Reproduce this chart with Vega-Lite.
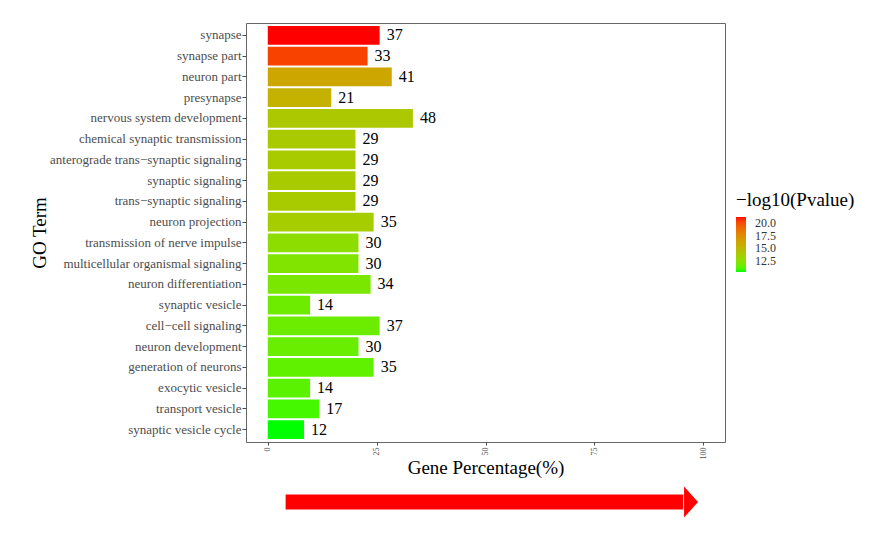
{
  "$schema": "https://vega.github.io/schema/vega-lite/v6.json",
  "background": "white",
  "padding": {"left": 30, "top": 22, "right": 5, "bottom": 5},
  "config": {"font": "Liberation Serif", "view": {"stroke": "#666666", "strokeWidth": 1}},
  "spacing": 4,
  "vconcat": [
    {
      "width": 479,
      "height": 419,
      "data": {"values": [
        {"term": "synapse", "pct": 25.69, "count": 37, "logp": 21.18},
        {"term": "synapse part", "pct": 22.92, "count": 33, "logp": 20.31},
        {"term": "neuron part", "pct": 28.47, "count": 41, "logp": 16.08},
        {"term": "presynapse", "pct": 14.58, "count": 21, "logp": 15.43},
        {"term": "nervous system development", "pct": 33.33, "count": 48, "logp": 14.02},
        {"term": "chemical synaptic transmission", "pct": 20.14, "count": 29, "logp": 13.91},
        {"term": "anterograde trans−synaptic signaling", "pct": 20.14, "count": 29, "logp": 13.8},
        {"term": "synaptic signaling", "pct": 20.14, "count": 29, "logp": 13.8},
        {"term": "trans−synaptic signaling", "pct": 20.14, "count": 29, "logp": 13.8},
        {"term": "neuron projection", "pct": 24.31, "count": 35, "logp": 13.7},
        {"term": "transmission of nerve impulse", "pct": 20.83, "count": 30, "logp": 12.6},
        {"term": "multicellular organismal signaling", "pct": 20.83, "count": 30, "logp": 12.17},
        {"term": "neuron differentiation", "pct": 23.61, "count": 34, "logp": 11.96},
        {"term": "synaptic vesicle", "pct": 9.72, "count": 14, "logp": 11.63},
        {"term": "cell−cell signaling", "pct": 25.69, "count": 37, "logp": 11.58},
        {"term": "neuron development", "pct": 20.83, "count": 30, "logp": 11.52},
        {"term": "generation of neurons", "pct": 24.31, "count": 35, "logp": 11.3},
        {"term": "exocytic vesicle", "pct": 9.72, "count": 14, "logp": 11.2},
        {"term": "transport vesicle", "pct": 11.81, "count": 17, "logp": 10.82},
        {"term": "synaptic vesicle cycle", "pct": 8.33, "count": 12, "logp": 10.33}
      ]},
      "encoding": {
        "y": {
          "field": "term", "type": "nominal", "sort": null,
          "scale": {"paddingInner": 0.1, "paddingOuter": 0.15},
          "axis": {
            "title": "GO Term", "titleFont": "Liberation Serif", "titleFontSize": 19, "titleFontWeight": "normal", "titleColor": "black",
            "titlePadding": 0, "labelFont": "Liberation Serif", "labelFontSize": 13, "labelColor": "#4d4d4d", "tickColor": "#4d4d4d",
            "tickSize": 4, "labelPadding": 1, "domain": false, "grid": false, "labelLimit": 400
          }
        },
        "x": {
          "field": "pct", "type": "quantitative",
          "scale": {"domain": [-5, 105], "nice": false, "zero": false},
          "axis": {
            "title": "Gene Percentage(%)", "titleFont": "Liberation Serif", "titleFontSize": 19, "titleFontWeight": "normal", "titleColor": "black",
            "titlePadding": -1, "values": [0, 25, 50, 75, 100], "labelAngle": -90, "labelFont": "Liberation Serif", "labelFontSize": 8,
            "labelColor": "#4d4d4d", "tickColor": "#4d4d4d", "tickSize": 3, "labelPadding": 2,
            "domain": false, "grid": false
          }
        }
      },
      "layer": [
        {
          "mark": {"type": "bar"},
          "encoding": {
            "color": {
              "field": "logp", "type": "quantitative",
              "scale": {"range": ["#00ff00", "#ff0000"], "interpolate": "lab", "nice": false, "zero": false},
              "legend": {
                "orient": "none", "legendX": 490, "legendY": 168,
                "title": "−log10(Pvalue)", "titleFont": "Liberation Serif", "titleFontSize": 19, "titleFontWeight": "normal", "titleColor": "black",
                "titlePadding": 7, "gradientLength": 55, "gradientThickness": 10, "gradientStrokeWidth": 0,
                "labelFont": "Liberation Serif", "labelFontSize": 12, "labelColor": "#333333", "values": [12.5, 15, 17.5, 20], "format": ".1f",
                "labelOffset": 9, "labelOverlap": false
              }
            }
          }
        },
        {
          "mark": {"type": "text", "align": "left", "baseline": "middle", "dx": 7, "fontSize": 16, "color": "black", "font": "Liberation Serif"},
          "encoding": {"text": {"field": "count", "type": "quantitative"}}
        }
      ]
    },
    {
      "width": 479,
      "height": 40,
      "view": {"stroke": null},
      "data": {"values": [{"a": 1}]},
      "layer": [
        {
          "mark": {"type": "rule", "color": "#ff0000", "strokeWidth": 15, "strokeCap": "butt"},
          "encoding": {
            "x": {"datum": 4.1, "type": "quantitative", "scale": {"domain": [-5, 105], "nice": false, "zero": false}, "axis": null},
            "x2": {"datum": 95.4},
            "y": {"datum": 0.5, "type": "quantitative", "scale": {"domain": [0, 1]}, "axis": null}
          }
        },
        {
          "mark": {"type": "point", "shape": "M-0.45,-1L0.45,0L-0.45,1Z", "filled": true, "color": "#ff0000", "opacity": 1, "size": 961},
          "encoding": {
            "x": {"datum": 97.2, "type": "quantitative"},
            "y": {"datum": 0.5, "type": "quantitative"}
          }
        }
      ]
    }
  ]
}
